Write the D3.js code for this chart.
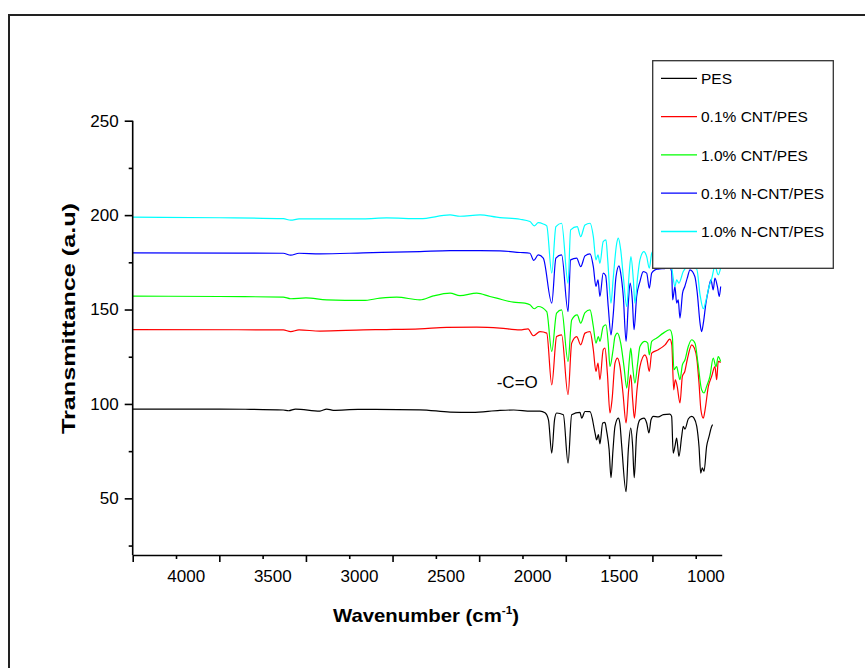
<!DOCTYPE html>
<html><head><meta charset="utf-8">
<script src="https://cdn.jsdelivr.net/npm/d3@7"></script>
<style>body{margin:0;background:#fff}svg{display:block}text{font-family:"Liberation Sans",Arial,sans-serif}</style>
</head><body><svg id="c" width="865" height="668"></svg>
<script>
const seriesNames = ["PES","0.1% CNT/PES","1.0% CNT/PES","0.1% N-CNT/PES","1.0% N-CNT/PES"];
const seriesColors = ["#000000","#ff0000","#00ff00","#0000ff","#00ffff"];
const xTickLabels = [4000,3500,3000,2500,2000,1500,1000];
const yTickLabels = [50,100,150,200,250];

const pesWn = [4000,3500,3350,3131,3100,3060,2919,2880,2842,2700,2342,2168,2040,1880,1800,1700,1649,1620,1600,1581,1565,1553,1514,1487,1466,1418,1408,1389,1360,1331,1322,1312,1303,1287,1274,1264,1250,1239,1228,1216,1197,1188,1177,1152,1139,1125,1114,1105,1091,1072,1049,1033,1020,1008,995,966,937,899,889,880,870,860,847,831,822,812,793,773,760,744,731,721,712,702,687,673,658,652];
const pesT  = [97.3,97.3,97.2,96.8,96.4,97.3,96.2,97.3,96.6,97.1,96.9,95.7,95.5,96.6,96.8,96.2,96.2,95.3,91.6,74.0,91.6,95.2,94.3,68.7,94.3,95.5,92.5,96.0,95.9,84.6,81.0,83.7,78.9,89.9,90.2,85.5,76,61.0,75,88.1,92.5,89.9,77.5,53.5,75.8,87.2,77.5,60.9,84,91.6,92.5,89.9,84.6,91.6,93.4,93.1,94.3,94.6,93.4,74.0,77.5,81.9,72.2,82.8,88.1,86.7,92.0,93.4,92.5,88.1,77.5,63.4,66.1,64.3,77.5,82.8,88.1,89.0];

const cnt01Wn = [4000,3131,3088,3040,2919,2669,2534,2342,2188,2014,1880,1764,1718,1688,1649,1610,1581,1553,1524,1487,1466,1437,1414,1389,1360,1341,1326,1314,1303,1284,1274,1260,1245,1233,1216,1202,1187,1170,1152,1137,1125,1114,1104,1089,1072,1043,1033,1018,1004,966,927,899,888,877,868,857,841,827,813,799,773,758,744,731,720,706,696,677,658,639,629,620,606];
const cnt01T  = [139.4,139.2,138.3,139.2,138.6,139.2,139.4,139.8,140.5,140.7,140.2,139.2,139.8,136.1,138.3,137.5,110.1,135.7,136.6,104.9,132.2,135.7,131.3,137.5,138.3,128.7,117.2,121.6,112.8,128.7,129.6,116.3,95.2,102.2,121.6,124.3,119.8,105.8,89.9,107.5,115.4,102.2,92.5,107.5,119.8,126.0,124.3,117.2,126.9,128.7,131.3,134.3,131.3,107.5,112.8,109.3,100.5,114.6,117.2,123.4,131.3,129.6,124.3,111.0,96.9,92.5,96.9,109.3,114.6,119.8,112.8,122.5,121.9];

const cnt10Wn = [4000,3500,3131,3088,3000,2880,2669,2572,2476,2342,2265,2168,2111,2014,1938,1899,1803,1736,1707,1682,1659,1610,1581,1553,1524,1487,1466,1434,1414,1389,1360,1341,1326,1312,1303,1284,1268,1255,1245,1227,1216,1202,1183,1164,1148,1133,1125,1114,1101,1085,1072,1043,1027,1018,1004,975,937,899,885,876,860,851,841,827,812,793,773,754,737,716,702,687,668,649,633,620,606];
const cnt10T  = [157.1,156.9,156.6,155.7,156.2,155.1,154.8,156.0,156.6,155.1,157.2,158.7,157.4,158.7,156.9,156.0,153.9,153.4,152.5,150.4,151.6,148.9,127.8,148.1,149.8,122.5,144.5,147.2,142.8,148.4,149.8,141.0,132.2,135.7,133.1,141.0,141.9,132.2,119.8,128.7,135.7,137.5,132.2,119.8,108.4,123.4,129.6,119.8,111.0,121.6,130.4,133.1,132.2,126.0,133.1,134.9,137.5,139.3,135.7,118.1,119.8,116.3,112.8,120.7,123.4,130.4,134.0,132.2,121.6,107.5,105.8,109.3,114.6,124.3,119.8,125.1,122.5];

const ncnt01Wn = [4000,3131,3088,3040,2919,2669,2342,2168,1995,1880,1764,1707,1685,1659,1630,1581,1557,1524,1487,1472,1437,1414,1389,1360,1341,1326,1314,1303,1284,1270,1255,1239,1227,1210,1193,1183,1168,1152,1139,1129,1116,1106,1091,1072,1053,1033,1018,1004,985,966,930,899,889,883,870,860,851,841,826,813,799,783,755,741,725,716,706,691,677,662,649,639,625,614,606];
const ncnt01T  = [180.0,179.8,178.8,179.8,179.5,180.0,180.7,181.2,181.2,181.1,180.2,179.8,176.0,178.9,177.2,153.4,177.2,178.9,148.9,176.3,177.2,172.7,178.4,179.5,172.7,162.2,165.7,156.9,169.3,168.0,151.6,136.6,146.3,167.5,173.1,169.3,156.9,133.1,153.4,164.0,155.1,139.3,156.9,164.8,170.1,169.3,161.3,169.3,171.0,171.4,171.7,172.1,170.1,155.1,162.2,153.4,155.1,145.4,158.7,162.2,166.6,171.0,167.5,158.7,142.8,138.3,142.8,153.4,160.4,165.7,160.4,166.6,162.2,156.9,162.2];

const ncnt10Wn = [4000,3500,3130,3088,3040,2919,2669,2534,2342,2168,2111,1995,1899,1880,1764,1707,1682,1659,1630,1610,1581,1557,1524,1487,1472,1434,1414,1389,1360,1341,1326,1314,1303,1284,1268,1258,1239,1227,1206,1197,1183,1168,1148,1134,1124,1110,1101,1085,1072,1049,1033,1018,1004,990,950,900,884,870,860,847,822,790,744,725,706,690,673,657,639,620,606];
const ncnt10T  = [198.9,198.6,198.1,197.3,198.0,198.0,198.0,198.5,198.1,200.1,199.4,200.1,198.9,198.7,197.8,196.6,194.3,196.0,195.3,194.3,169.3,193.9,195.7,163.9,192.2,193.9,188.6,194.8,195.7,188.6,176.3,178.9,174.5,186.0,186.9,176.3,153.4,165.7,185.1,187.8,181.6,167.5,151.6,169.3,178.0,165.7,153.4,167.5,176.3,180.7,178.0,171.9,179.8,181.6,182.6,181.6,169.3,162.2,165.7,164.0,170.1,173,171.4,157.8,150.4,155.1,162.2,166.6,173.1,168.4,172.1];

const allWn = [pesWn,cnt01Wn,cnt10Wn,ncnt01Wn,ncnt10Wn];
const allT  = [pesT,cnt01T,cnt10T,ncnt01T,ncnt10T];

const svg = d3.select("#c");
const x = d3.scaleLinear().domain([4000,600]).range([132.7,721.7]);
const y = d3.scaleLinear().domain([20,250]).range([555,120.7]);

// outer frame
svg.append("rect").attr("x",9).attr("y",15).attr("width",900).attr("height",700)
  .attr("fill","none").attr("stroke","#222").attr("stroke-width",2);

// curves
const line = d3.line().x(d=>x(d[0])).y(d=>y(d[1])).curve(d3.curveMonotoneX);
allWn.forEach((wn,i)=>{
  const pts = wn.map((w,k)=>[w,allT[i][k]]);
  svg.append("path").datum(pts).attr("d",line).attr("fill","none")
    .attr("stroke",seriesColors[i]).attr("stroke-width",1.2).attr("stroke-linejoin","round");
});

// x axis
const xMajor = d3.range(4000,999,-500);
const xMinor = d3.range(3750,700,-500);
const gx = svg.append("g").attr("transform","translate(0,555)");
gx.append("g").call(d3.axisBottom(x).tickValues(xMinor).tickSize(4).tickFormat("").tickSizeOuter(0))
  .call(g=>g.select(".domain").remove());
gx.append("g").call(d3.axisBottom(x).tickValues(xMajor).tickSize(7).tickSizeOuter(0)
    .tickFormat((d,i)=>xTickLabels[i]).tickPadding(8))
  .call(g=>g.select(".domain").attr("stroke-width",1.6));
gx.selectAll("line").attr("stroke-width",1.6);
gx.selectAll("text").attr("font-size",17).attr("dx",53).attr("fill","#000")
  .style("font-family","'Liberation Sans',Arial,sans-serif");

// y axis
const yMinor = d3.range(25,251,50);
const gy = svg.append("g").attr("transform","translate(132.7,0)");
gy.append("g").call(d3.axisLeft(y).tickValues(yMinor).tickSize(4).tickFormat("").tickSizeOuter(0))
  .call(g=>g.select(".domain").remove());
gy.append("g").call(d3.axisLeft(y).tickValues(yTickLabels).tickSize(8).tickSizeOuter(0).tickPadding(6))
  .call(g=>g.select(".domain").attr("stroke-width",1.6).attr("d","M0,555V120.7"));
gy.selectAll("line").attr("stroke-width",1.6);
gy.selectAll("text").attr("font-size",17).attr("fill","#000")
  .style("font-family","'Liberation Sans',Arial,sans-serif");

// axis titles
const xt = svg.append("text").attr("x",333).attr("y",622)
  .attr("font-size",19).attr("font-weight","bold")
  .attr("textLength",186).attr("lengthAdjust","spacingAndGlyphs");
xt.append("tspan").text("Wavenumber (cm");
xt.append("tspan").text("-1").attr("font-size",11).attr("dy",-8);
xt.append("tspan").text(")").attr("dy",8);

svg.append("text").attr("transform","translate(75,434) rotate(-90)")
  .attr("font-size",19).attr("font-weight","bold")
  .attr("textLength",231).attr("lengthAdjust","spacingAndGlyphs").text("Transmittance (a.u)");

// annotation
svg.append("text").attr("x",496.7).attr("y",388.3).attr("font-size",17).text("-C=O");

// legend
const lg = svg.append("g");
lg.append("rect").attr("x",652.7).attr("y",60.7).attr("width",180.6).attr("height",207.6)
  .attr("fill","#fff").attr("stroke","#333").attr("stroke-width",1.3);
seriesNames.forEach((n,i)=>{
  const yy = 78.3 + 38.3*i;
  lg.append("line").attr("x1",661).attr("x2",697).attr("y1",yy).attr("y2",yy)
    .attr("stroke",seriesColors[i]).attr("stroke-width",1.3);
  lg.append("text").attr("x",701).attr("y",yy+5.6).attr("font-size",15.5).text(n);
});
</script></body></html>
